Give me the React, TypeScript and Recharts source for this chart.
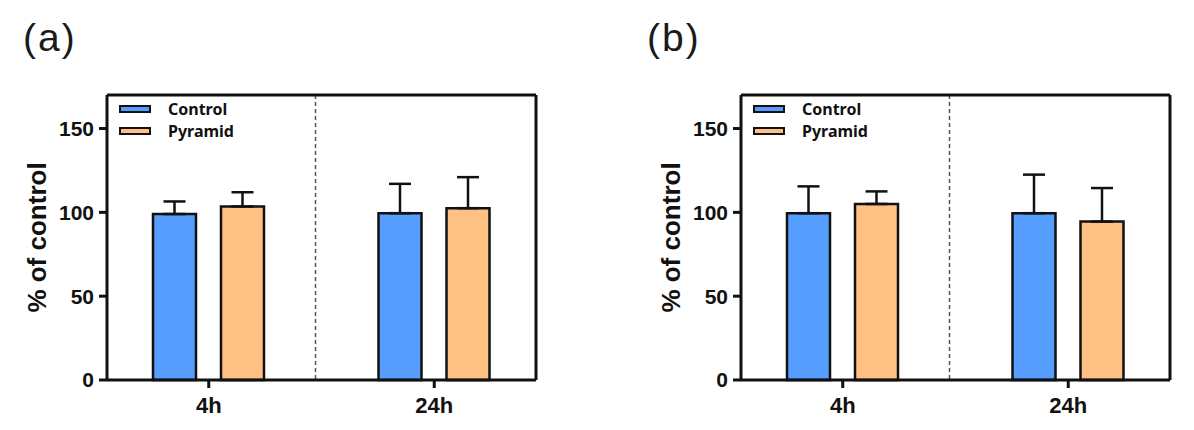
import React from 'react'
import { BarChart, Bar, XAxis, YAxis, ErrorBar, Legend, CartesianGrid } from 'recharts'

const categories = ['4h', '24h']
const seriesNames = ['Control', 'Pyramid']
const yTicks = [0, 50, 100, 150]

// panel (a)
const controlA = [99, 99.5]
const pyramidA = [103.5, 102.5]
const controlSdA = [7.5, 17.5]
const pyramidSdA = [8.5, 18.5]

// panel (b)
const controlB = [99.5, 99.5]
const pyramidB = [105, 94.5]
const controlSdB = [16, 23]
const pyramidSdB = [7.5, 20]

const BLUE = '#559DFF'
const ORANGE = '#FFC183'
const INK = '#111'
const AXIS_FONT = '"Liberation Sans", Arial, sans-serif'

const buildRows = (ctrl: number[], pyr: number[], ctrlSd: number[], pyrSd: number[]) =>
  categories.map((time, i) => ({
    time,
    control: ctrl[i],
    pyramid: pyr[i],
    controlErr: [0, ctrlSd[i]],
    pyramidErr: [0, pyrSd[i]],
  }))

const rowsA = buildRows(controlA, pyramidA, controlSdA, pyramidSdA)
const rowsB = buildRows(controlB, pyramidB, controlSdB, pyramidSdB)

function AxisTitle({ viewBox }: any) {
  if (!viewBox) return null
  const cx = viewBox.x + viewBox.width - 70
  const cy = viewBox.y + viewBox.height / 2
  return (
    <text
      x={cx}
      y={cy}
      transform={`rotate(-90 ${cx} ${cy})`}
      textAnchor="middle"
      dominantBaseline="central"
      fontFamily={AXIS_FONT}
      fontWeight="bold"
      fontSize={26}
      fill={INK}
    >
      % of control
    </text>
  )
}

function LegendBox({ payload }: any) {
  return (
    <div>
      {(payload || []).map((entry: any) => (
        <div key={entry.value} style={{ display: 'flex', alignItems: 'center', height: 22 }}>
          <div
            style={{
              width: 28,
              height: 4,
              background: entry.color,
              border: `2px solid ${INK}`,
              marginRight: 17,
            }}
          />
          <span style={{ fontFamily: '"Noto Sans", sans-serif', fontWeight: 'bold', fontSize: 16, color: INK, whiteSpace: 'nowrap' }}>
            {entry.value}
          </span>
        </div>
      ))}
    </div>
  )
}

function Panel({ rows }: { rows: any[] }) {
  const line = { stroke: INK, strokeWidth: 3 }
  return (
    <BarChart width={546} height={430} data={rows} margin={{ top: 94, right: 9, bottom: 10, left: 0 }} barSize={43} barGap={25}>
      <CartesianGrid
        horizontal={false}
        verticalCoordinatesGenerator={({ offset }: any) => [offset.left + offset.width / 2 - 6]}
        stroke="#555"
        strokeWidth={1.5}
        strokeDasharray="4 3"
      />
      <XAxis
        dataKey="time"
        height={40}
        padding={{ left: -11, right: -11 }}
        tickSize={8}
        tickMargin={9}
        tick={{ fontFamily: AXIS_FONT, fontWeight: 'bold', fontSize: 22, fill: INK }}
        axisLine={line}
        tickLine={line}
      />
      <XAxis xAxisId="frame" dataKey="time" orientation="top" height={1} tick={false} tickLine={false} axisLine={line} />
      <YAxis
        width={107}
        domain={[0, 170]}
        ticks={yTicks}
        interval={0}
        tickSize={8}
        tickMargin={5}
        tick={{ fontFamily: AXIS_FONT, fontWeight: 'bold', fontSize: 21, fill: INK }}
        axisLine={line}
        tickLine={line}
        label={<AxisTitle />}
      />
      <YAxis yAxisId="frame" orientation="right" width={1} domain={[0, 170]} tick={false} tickLine={false} axisLine={line} />
      <Legend
        content={<LegendBox />}
        layout="vertical"
        verticalAlign="middle"
        align="center"
        wrapperStyle={{ top: 98, left: 119, width: 'auto' }}
      />
      <Bar dataKey="control" name={seriesNames[0]} fill={BLUE} stroke={INK} strokeWidth={2.5} isAnimationActive={false}>
        <ErrorBar dataKey="controlErr" direction="y" width={11} stroke={INK} strokeWidth={2.5} isAnimationActive={false} />
      </Bar>
      <Bar dataKey="pyramid" name={seriesNames[1]} fill={ORANGE} stroke={INK} strokeWidth={2.5} isAnimationActive={false}>
        <ErrorBar dataKey="pyramidErr" direction="y" width={11} stroke={INK} strokeWidth={2.5} isAnimationActive={false} />
      </Bar>
    </BarChart>
  )
}

const titleStyle: React.CSSProperties = {
  position: 'absolute',
  top: 16,
  fontFamily: AXIS_FONT,
  fontSize: 39,
  color: '#1a1a1a',
  letterSpacing: 2,
}

export default function App() {
  return (
    <div style={{ position: 'absolute', left: 0, top: 0, width: 1194, height: 430, background: '#fff' }}>
      <div style={{ ...titleStyle, left: 23 }}>(a)</div>
      <div style={{ ...titleStyle, left: 647 }}>(b)</div>
      <div style={{ position: 'absolute', left: 0, top: 0 }}>
        <Panel rows={rowsA} />
      </div>
      <div style={{ position: 'absolute', left: 634, top: 0 }}>
        <Panel rows={rowsB} />
      </div>
    </div>
  )
}
